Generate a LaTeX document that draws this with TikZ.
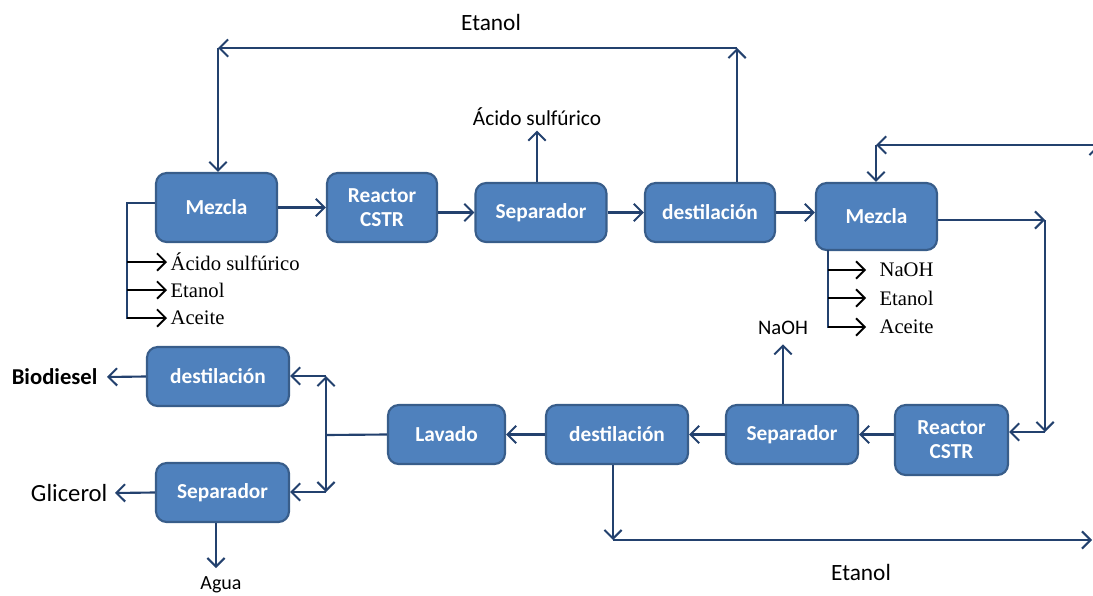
\documentclass[tikz,border=0pt]{standalone}
\usepackage{fontspec}
\setmainfont{Carlito}
\newfontfamily\feedfont{Liberation Serif}
\usepackage{tikz}
\usetikzlibrary{arrows.meta,positioning,calc}
\definecolor{UnitBlue}{HTML}{4F81BD}
\definecolor{UnitEdge}{HTML}{385D8A}
\definecolor{FlowBlue}{HTML}{23416E}

\begin{document}
\begin{tikzpicture}[x=0.75pt,y=-0.75pt,
	unit/.style={draw=UnitEdge,fill=UnitBlue,line width=1.6pt,rounded corners=8pt,text=white,align=center,inner sep=0pt,font=\fontsize{16}{18}\selectfont\bfseries},
	flow/.style={FlowBlue,line width=1.6pt,-{Straight Barb[length=6.5pt,width=13pt,line width=1.5pt]}},
	pipe/.style={FlowBlue,line width=1.6pt},
	feed/.style={black,line width=1.4pt,-{Straight Barb[length=6.5pt,width=13pt,line width=1.4pt]}},
	feedlbl/.style={anchor=west,inner sep=1pt,font=\feedfont\fontsize{15.5}{17}\selectfont},
	lbl/.style={inner sep=1pt,font=\fontsize{16}{18}\selectfont}]
		\useasboundingbox (0,0) rectangle (1093,596);
		\clip (0,0) rectangle (1093,596);
		% first stage
		\node[unit,minimum width=90.75pt,minimum height=51.75pt] (mezA) at (216.5,207.5) {Mezcla};
		\node[unit,minimum width=82.5pt,minimum height=51.75pt] (reacA) at (382,207.5) {Reactor\\CSTR};
		\node[unit,minimum width=98.25pt,minimum height=44.25pt] (sepA) at (541,212.5) {Separador};
		\node[unit,minimum width=97.5pt,minimum height=44.25pt] (destA) at (710,212.5) {destilación};
		\node[unit,minimum width=90.75pt,minimum height=50.25pt] (mezB) at (876.5,216.5) {Mezcla};
		% second stage
		\node[unit,minimum width=84.75pt,minimum height=52.5pt] (reacB) at (951.5,440) {Reactor\\CSTR};
		\node[unit,minimum width=99pt,minimum height=44.25pt] (sepB) at (792,434.5) {Separador};
		\node[unit,minimum width=106.5pt,minimum height=44.25pt] (destB) at (617,434.5) {destilación};
		\node[unit,minimum width=87.75pt,minimum height=44.25pt] (lav) at (446.5,434.5) {Lavado};
		\node[unit,minimum width=106.5pt,minimum height=44.25pt] (destC) at (218,376.5) {destilación};
		\node[unit,minimum width=99.75pt,minimum height=44.25pt] (sepC) at (222.5,492.5) {Separador};
		% labels
		\node[lbl,font=\fontsize{17.5}{19}\selectfont] (etanolA) at (491,22) {Etanol};
		\node[lbl] (acidoA) at (537,117) {Ácido sulfúrico};
		\node[lbl,font=\fontsize{15.5}{17}\selectfont] (naohB) at (783,328) {NaOH};
		\node[lbl,font=\fontsize{17.5}{19}\selectfont] (etanolB) at (861,572) {Etanol};
		\node[lbl,anchor=east,font=\fontsize{17}{19}\selectfont\bfseries] (bio) at (99,377) {Biodiesel};
		\node[lbl,anchor=east,font=\fontsize{18.5}{20}\selectfont] (glic) at (109,493) {Glicerol};
		\node[lbl,font=\fontsize{15}{17}\selectfont] (agua) at (221,585) {Agua};
		% main line
		\draw[flow] (mezA.east) -- (reacA.west);
		\draw[flow] (reacA.east |- sepA) -- (sepA.west);
		\draw[flow] (sepA.east) -- (destA.west);
		\draw[flow] (destA.east) -- (destA.east -| mezB.west);
		\draw[flow] (acidoA.south |- sepA.north) -- ($(acidoA.south)+(0,3)$);
		% ethanol recycle
		\coordinate (eTR) at (737,48);
		\coordinate (eTL) at (218,48);
		\draw[flow] (eTR |- destA.north) -- (eTR);
		\draw[flow] (eTR) -- (eTL);
		\draw[flow] (eTL) -- (eTL |- mezA.north);
		% feeds of the first mixer
		\coordinate (fA) at (127,203);
		\draw[pipe] (mezA.west |- fA) -- (fA) -- (127,319);
		\foreach \y/\t/\n in {262/{Ácido sulfúrico}/1,290/Etanol/2,318/Aceite/3}{
			\node[feedlbl] (inA\n) at (169,\y) {\t};
			\coordinate (fA\n) at (127,\y);
			\draw[feed] (fA\n) -- ($(inA\n.west)+(-2,0)$);
		}
		% feeds of the second mixer
		\coordinate (fB) at (828,250);
		\draw[pipe] (fB) -- (828,328);
		\foreach \y/\t/\n in {270/NaOH/1,298/Etanol/2,327/Aceite/3}{
			\node[feedlbl] (inB\n) at (878,\y) {\t};
			\coordinate (fB\n) at (828,\y);
			\draw[feed] (fB\n) -- ($(inB\n.west)+(-12,0)$);
		}
		% second mixer to reactor
		\coordinate (rB1) at (1045,220);
		\coordinate (rB2) at (1045,432);
		\draw[flow] (mezB.east |- rB1) -- (rB1);
		\draw[flow] (rB1) -- (rB2);
		\draw[flow] (rB2) -- (rB2 -| reacB.east);
		% top right recycle
		\coordinate (eR0) at (1098,320);
		\coordinate (eR1) at (1098,145);
		\coordinate (eR2) at (876,145);
		\draw[flow] (eR0) -- (eR1);
		\draw[flow] (eR1) -- (eR2);
		\draw[flow] (eR2) -- (eR2 |- mezB.north);
		% second line
		\draw[flow] (reacB.west |- sepB) -- (sepB.east);
		\draw[flow] (sepB.west) -- (destB.east);
		\draw[flow] (destB.west) -- (lav.east);
		\draw[flow] (naohB.south |- sepB.north) -- ($(naohB.south)+(0,8)$);
		\coordinate (eB1) at (613,540);
		\coordinate (eB2) at (1092,540);
		\draw[flow] (eB1 |- destB.south) -- (eB1);
		\draw[flow] (eB1) -- (eB2);
		% washing split
		\coordinate (sp) at (326,435);
		\coordinate (spT) at (326,376);
		\coordinate (spB) at (326,492);
		\draw[pipe] (lav.west) -- (sp);
		\draw[flow] (sp) -- (spT);
		\draw[flow] (sp) -- (spB);
		\draw[flow] (spT) -- (spT -| destC.east);
		\draw[flow] (spB) -- (spB -| sepC.east);
		\draw[flow] (destC.west) -- ($(bio.east)+(8,0)$);
		\draw[flow] (sepC.west) -- ($(glic.east)+(6,0)$);
		\coordinate (aguaTip) at (216,568);
		\draw[flow] (aguaTip |- sepC.south) -- (aguaTip);
	\end{tikzpicture}
\end{document}
